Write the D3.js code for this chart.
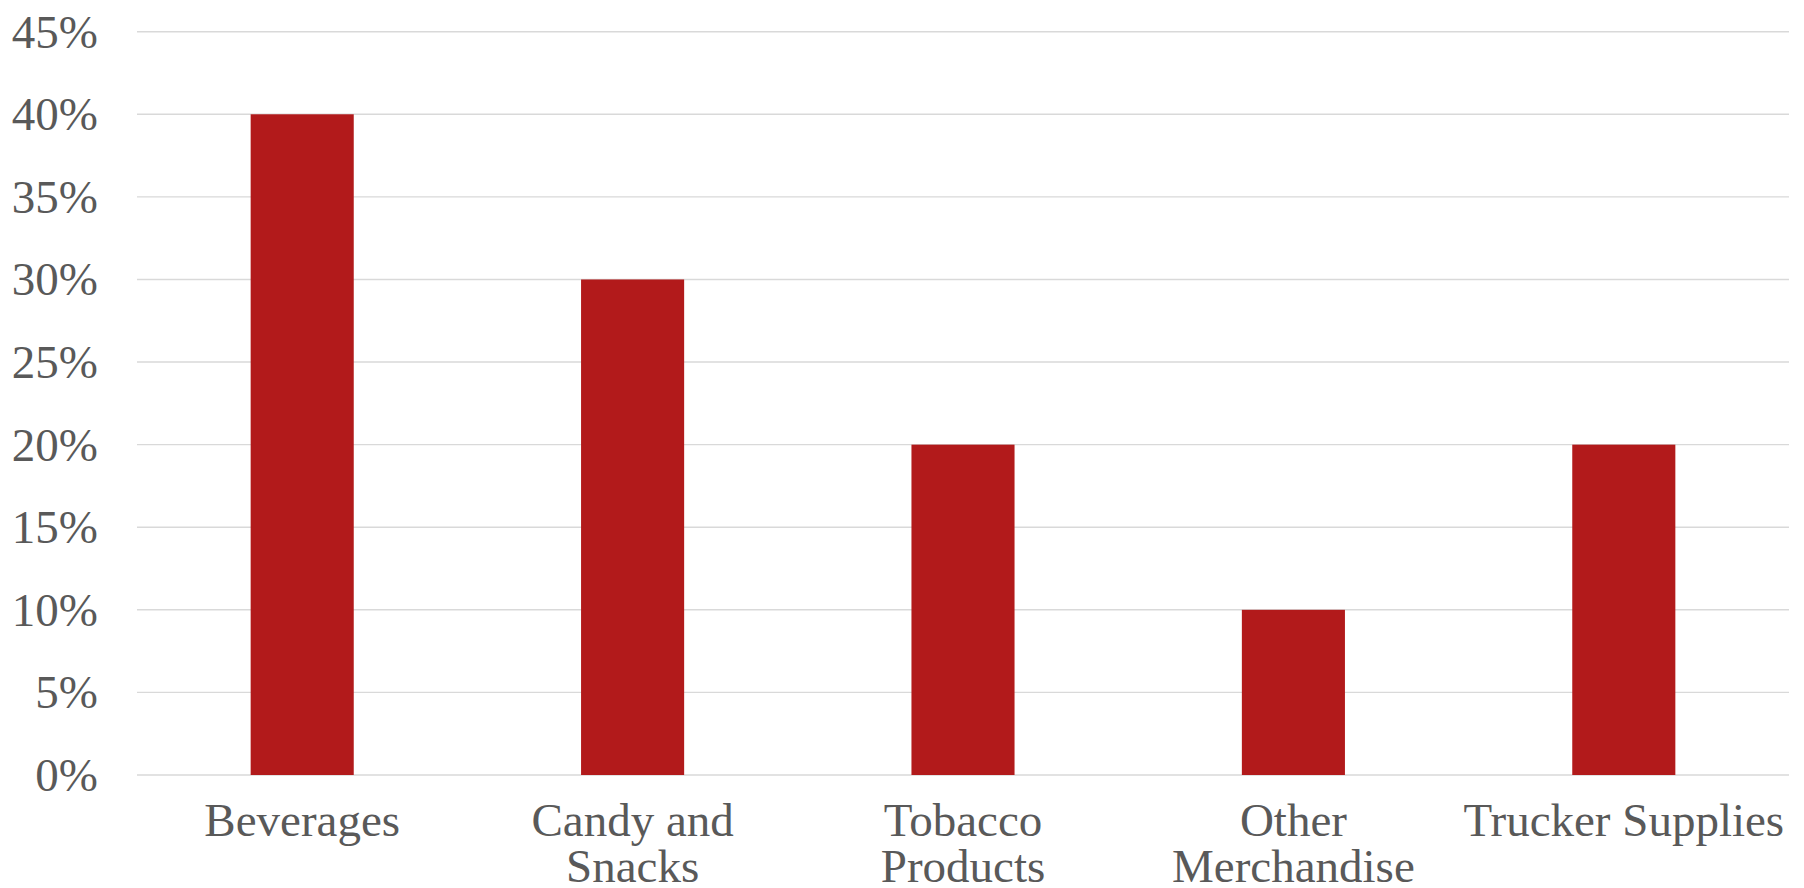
<!DOCTYPE html>
<html>
<head>
<meta charset="utf-8">
<script src="https://cdn.jsdelivr.net/npm/d3@7"></script>
<style>
  html, body { margin: 0; padding: 0; background: #fff; }
  svg { display: block; }
  svg text { font-family: "Liberation Serif", "Times New Roman", Times, serif; }
</style>
</head>
<body>
<svg id="chart" width="1804" height="888"></svg>
<script>
// Share of sales by merchandise category
const categories = ["Beverages", "Candy and Snacks", "Tobacco Products", "Other Merchandise", "Trucker Supplies"];
const categoryLines = [["Beverages"], ["Candy and", "Snacks"], ["Tobacco", "Products"], ["Other", "Merchandise"], ["Trucker Supplies"]];
const shares = [0.40, 0.30, 0.20, 0.10, 0.20];
const yTicks = [0, 0.05, 0.10, 0.15, 0.20, 0.25, 0.30, 0.35, 0.40, 0.45];

const svg = d3.select("#chart");
const margin = { left: 137, right: 15, top: 31.7, bottom: 113 };
const W = 1804, H = 888;
const textColor = "#595959";

const x = d3.scaleBand()
  .domain(categories)
  .range([margin.left, W - margin.right])
  .padding(0);

const y = d3.scaleLinear()
  .domain([0, 0.45])
  .range([H - margin.bottom, margin.top]);

const barWidth = x.bandwidth() * 0.312;

// Horizontal gridlines
svg.append("g")
  .selectAll("line")
  .data(yTicks)
  .join("line")
  .attr("x1", margin.left)
  .attr("x2", W - margin.right)
  .attr("y1", d => y(d))
  .attr("y2", d => y(d))
  .attr("stroke", "#d9d9d9")
  .attr("stroke-width", 1.4);

// Y-axis labels
const yAxis = d3.axisLeft(y)
  .tickValues(yTicks)
  .tickFormat(d3.format(".0%"))
  .tickSize(0)
  .tickPadding(39);

const gy = svg.append("g")
  .attr("transform", `translate(${margin.left},0)`)
  .call(yAxis)
  .attr("font-family", null)
  .attr("font-size", null);
gy.select(".domain").remove();
gy.selectAll("text")
  .attr("font-size", 47)
  .attr("fill", textColor)
  .attr("dy", "0.33em");

// Bars
svg.append("g")
  .selectAll("rect")
  .data(categories)
  .join("rect")
  .attr("x", d => x(d) + (x.bandwidth() - barWidth) / 2)
  .attr("width", barWidth)
  .attr("y", (d, i) => y(shares[i]))
  .attr("height", (d, i) => y(0) - y(shares[i]))
  .attr("fill", "#b21a1b");

// Category labels, wrapped onto two lines where needed
const labels = svg.append("g")
  .selectAll("text")
  .data(categories)
  .join("text")
  .attr("x", d => x(d) + x.bandwidth() / 2)
  .attr("y", 836)
  .attr("text-anchor", "middle")
  .attr("font-size", 47)
  .attr("fill", textColor);

labels.each(function(d, i) {
  const t = d3.select(this);
  categoryLines[i].forEach((line, j) => {
    t.append("tspan")
      .attr("x", x(d) + x.bandwidth() / 2)
      .attr("dy", j === 0 ? 0 : 46)
      .text(line);
  });
});
</script>
</body>
</html>
